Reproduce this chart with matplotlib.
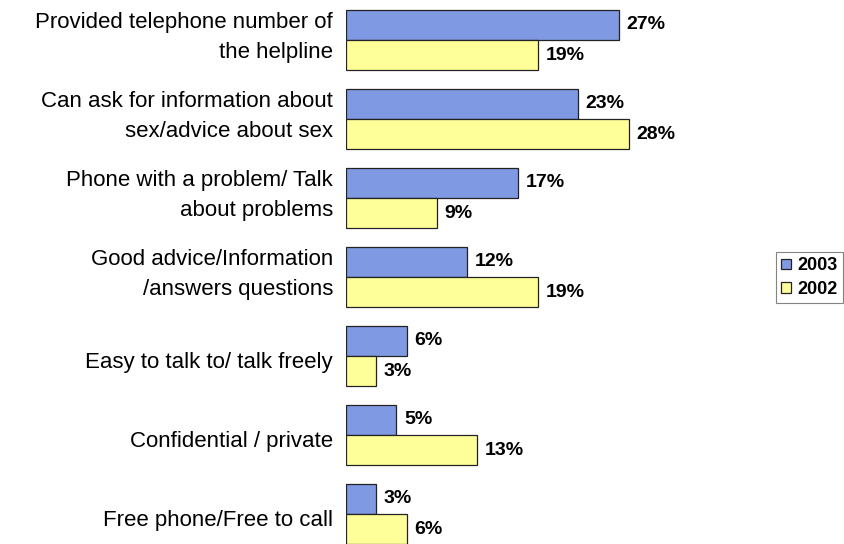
import numpy as np
import matplotlib.pyplot as plt

plt.rcParams['font.family'] = ['Liberation Sans', 'DejaVu Sans']

categories = [
    "Provided telephone number of\nthe helpline",
    "Can ask for information about\nsex/advice about sex",
    "Phone with a problem/ Talk\nabout problems",
    "Good advice/Information\n/answers questions",
    "Easy to talk to/ talk freely",
    "Confidential / private",
    "Free phone/Free to call",
]
vals_2003 = [27, 23, 17, 12, 6, 5, 3]
vals_2002 = [19, 28, 9, 19, 3, 13, 6]

blue = '#8099e3'
yellow = '#ffff99'

fig = plt.figure(figsize=(8.45, 5.44), dpi=100)
ax = fig.add_axes([346 / 845, 0, 499 / 845, 1])

y = np.arange(len(categories))
h = 0.385
ax.barh(y - h / 2, vals_2003, height=h, color=blue, edgecolor='#222222',
        linewidth=0.9, label='2003')
ax.barh(y + h / 2, vals_2002, height=h, color=yellow, edgecolor='#222222',
        linewidth=0.9, label='2002')

# percentage labels at the end of each bar
for i, (a, b) in enumerate(zip(vals_2003, vals_2002)):
    ax.text(a + 0.75, i - h / 2, f"{a}%", va='center', ha='left',
            fontsize=14, fontweight='bold')
    ax.text(b + 0.75, i + h / 2, f"{b}%", va='center', ha='left',
            fontsize=14, fontweight='bold')

ax.set_xlim(0, 499 / 10.1)
ax.set_ylim((544 - 40) / 79, -40 / 79)

# category names to the left of the bars
trans = ax.get_yaxis_transform()
for i, name in enumerate(categories):
    shift = -0.03 if '\n' in name else 0.076
    ax.text(-13 / 499, i + shift, name, transform=trans, ha='right',
            va='center', fontsize=16, linespacing=1.6)

ax.set_yticks([])
ax.set_xticks([])
for s in ax.spines.values():
    s.set_visible(False)

leg = ax.legend(loc='upper left', bbox_to_anchor=(430 / 499, 1 - 252 / 544),
                frameon=True, fancybox=False, edgecolor='#666666',
                prop={'weight': 'bold', 'size': 13}, handlelength=0.55,
                handleheight=0.55, handletextpad=0.35, borderpad=0.3,
                labelspacing=0.35, borderaxespad=0)
leg.get_frame().set_linewidth(0.8)

fig.savefig('out.png', dpi=100)
